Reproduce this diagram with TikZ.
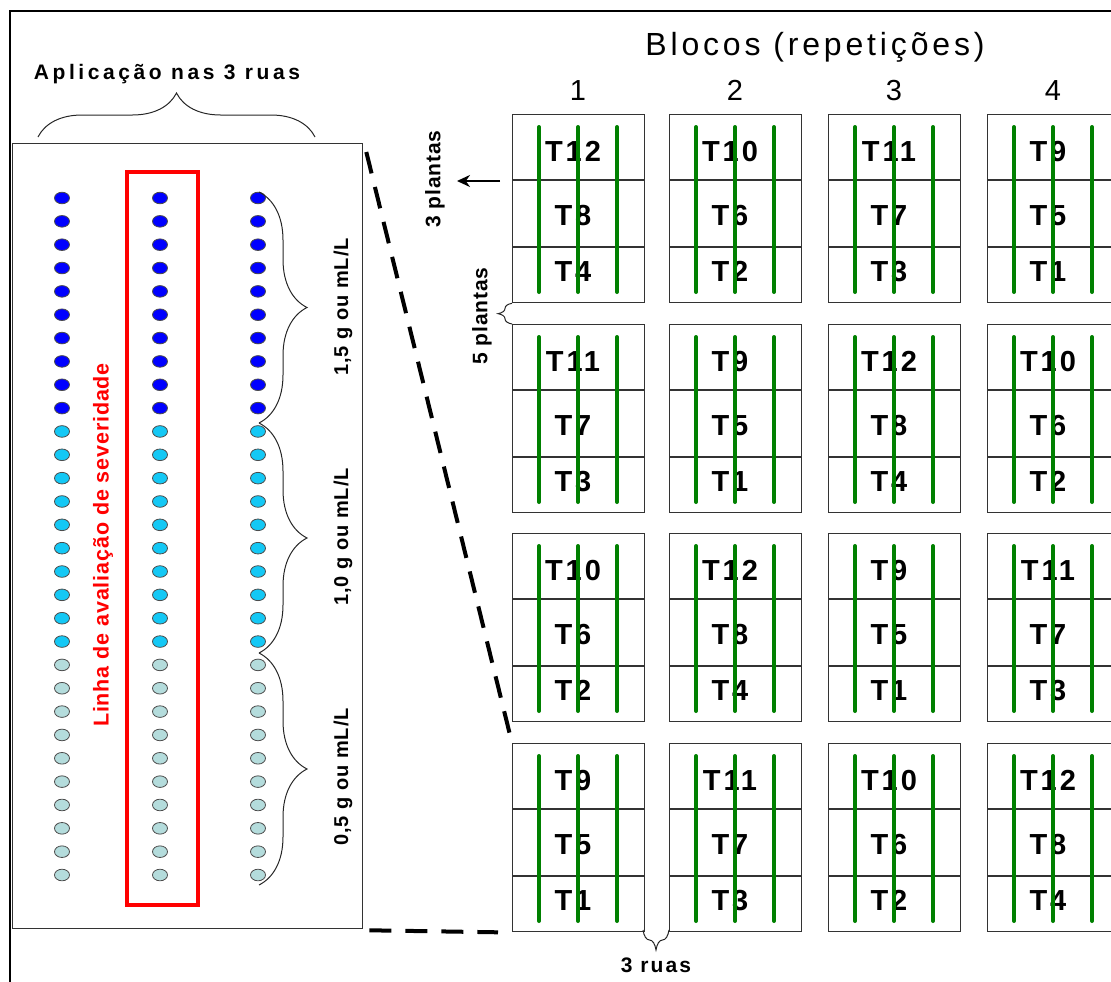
\documentclass[tikz,border=0pt]{standalone}
\usepackage{fontspec}
\setmainfont{Liberation Sans}
\newfontfamily\cellfont[LetterSpace=10]{Liberation Sans}
\newfontfamily\wideA[LetterSpace=17]{Liberation Sans}
\newfontfamily\wideB[LetterSpace=5]{Liberation Sans}
\newfontfamily\wideC[LetterSpace=4]{Liberation Sans}
\newfontfamily\wideD[LetterSpace=12]{Liberation Sans}
\newfontfamily\wideE[LetterSpace=10]{Liberation Sans}
\usetikzlibrary{decorations.pathreplacing,arrows.meta}
\definecolor{dotblue}{RGB}{0,0,255}
\definecolor{dotcyan}{RGB}{20,200,245}
\definecolor{dotlight}{RGB}{180,220,220}
\definecolor{plantgreen}{RGB}{0,128,0}
\definecolor{evalred}{RGB}{255,0,0}
\begin{document}
\begin{tikzpicture}[x=1pt,y=-1pt,
  frameline/.style={line width=2pt,draw=black},
  panelbox/.style={draw=black!80,line width=1.3pt,minimum width=350pt,minimum height=785pt,inner sep=0pt,anchor=north west},
  redbox/.style={draw=evalred,line width=4pt,minimum width=71pt,minimum height=733pt,inner sep=0pt,anchor=north west},
  blockbox/.style={draw=black!80,line width=1.3pt,minimum width=132pt,minimum height=188pt,inner sep=0pt,anchor=north west},
  divider/.style={draw=black!80,line width=1.3pt},
  greenline/.style={draw=plantgreen,line width=4pt,line cap=round},
  cellT/.style={font=\cellfont\bfseries\fontsize{29}{29}\selectfont,anchor=base,inner sep=0pt},
  curly/.style={decorate,decoration={brace,amplitude=#1},draw=black!85,line width=1pt},
  dashconn/.style={line width=4pt,dash pattern=on 22pt off 14pt},
  dotshape/.style={draw=black!70,line width=0.8pt,fill=#1},
  rotlabel/.style={rotate=90,inner sep=0pt,font=\wideB\bfseries\fontsize{20}{20}\selectfont},
]
\useasboundingbox (0,0) rectangle (1111,982);
\begin{scope}
\clip (0,0) rectangle (1111,982);
% outer frame
\draw[frameline] (10,982) -- (10,11) -- (1111,11);

% left panel
\node[panelbox] (panel) at (12,143) {};
\node[redbox] (evalbox) at (125,170) {};

% dots
\foreach \x in {62,160,258}{
  \foreach \i in {0,...,29}{
    \pgfmathsetmacro\yy{198+\i*23.345}
    \ifnum\i<10 \def\dc{dotblue}\else\ifnum\i<20 \def\dc{dotcyan}\else\def\dc{dotlight}\fi\fi
    \draw[dotshape=\dc] (\x,\yy) ellipse [x radius=7.5, y radius=5.8];
  }
}

% top brace and label
\coordinate (tbL) at (38,137);
\coordinate (tbR) at (315,137);
\draw[curly=44pt] (tbL) -- (tbR);
\node[anchor=base,inner sep=0pt,font=\wideA\bfseries\fontsize{21}{21}\selectfont] (aplic) at (167,80) {Aplicação nas 3 ruas};

% dose braces
\coordinate (d0) at (259,192);
\coordinate (d1) at (259,423);
\coordinate (d2) at (259,653);
\coordinate (d3) at (259,885);
\draw[curly=48pt] (d0) -- (d1);
\draw[curly=48pt] (d1) -- (d2);
\draw[curly=48pt] (d2) -- (d3);
\node[rotlabel] (dose15) at (343,307) {1,5 g ou mL/L};
\node[rotlabel] (dose10) at (343,537) {1,0 g ou mL/L};
\node[rotlabel] (dose05) at (343,777) {0,5 g ou mL/L};

\node[rotate=90,inner sep=0pt,text=evalred,font=\wideC\bfseries\fontsize{21.5}{21.5}\selectfont] (evallabel) at (103,545) {Linha de avaliação de severidade};

% blocks
\foreach \r/\by in {0/114,1/324,2/533,3/743}{
  \foreach \c/\bx in {0/512,1/669,2/828,3/987}{
    \node[blockbox] (b\r\c) at (\bx,\by) {};
    \draw[divider] ([yshift=-66pt]b\r\c.north west) -- ([yshift=-66pt]b\r\c.north east);
    \draw[divider] ([yshift=-133pt]b\r\c.north west) -- ([yshift=-133pt]b\r\c.north east);
    \pgfmathtruncatemacro\n{{12,10,11,9,11,9,12,10,10,12,9,11,9,11,10,12}[4*\r+\c]}
    \pgfmathtruncatemacro\nb{\n-4}
    \pgfmathtruncatemacro\nc{\n-8}
    \node[cellT] (t\r\c a) at ([xshift=61pt,yshift=-47.5pt]b\r\c.north west) {T\n};
    \node[cellT] (t\r\c b) at ([xshift=61pt,yshift=-111.5pt]b\r\c.north west) {T\nb};
    \node[cellT] (t\r\c c) at ([xshift=61pt,yshift=-167.5pt]b\r\c.north west) {T\nc};
    \foreach \gx in {27,66,105}{
      \draw[greenline] ([xshift=\gx pt,yshift=-13pt]b\r\c.north west) -- ([xshift=\gx pt,yshift=-178pt]b\r\c.north west);
    }
  }
}

% titles
\node[anchor=base,inner sep=0pt,font=\wideD\fontsize{32}{32}\selectfont] (blocos) at (815,56) {Blocos (repetições)};
\foreach \c/\cx in {0/578,1/735,2/894,3/1053}{
  \node[anchor=base,inner sep=0pt,font=\fontsize{29}{29}\selectfont] (num\c) at (\cx,100) {\the\numexpr\c+1\relax};
}

% 3 plantas arrow
\coordinate (arrS) at (500,181);
\coordinate (arrE) at (457,181);
\draw[line width=2.2pt,-{Stealth[length=13pt,width=12pt]}] (arrS) -- (arrE);
\node[rotate=90,inner sep=0pt,font=\wideC\bfseries\fontsize{21}{21}\selectfont] (pl3) at (435,179) {3 plantas};

% 5 plantas brace
\draw[curly=14pt] (b00.south west |- b10.north west) -- (b00.south west);
\node[rotate=90,inner sep=0pt,font=\wideC\bfseries\fontsize{21}{21}\selectfont] (pl5) at (482,316) {5 plantas};

% 3 ruas brace
\coordinate (rR) at (669,930);
\coordinate (rL) at (643,930);
\draw[curly=20pt] (rR) -- (rL);
\node[anchor=base,inner sep=0pt,font=\wideE\bfseries\fontsize{21}{21}\selectfont] (ruas) at (656,972) {3 ruas};

% zoom connectors
\draw[dashconn] ([xshift=3pt,yshift=-9pt]panel.north east) -- (b30.north west);
\draw[dashconn] ([xshift=6pt,yshift=-1pt]panel.south east) -- ([xshift=-14pt]b30.south west);
\end{scope}
\end{tikzpicture}
\end{document}
